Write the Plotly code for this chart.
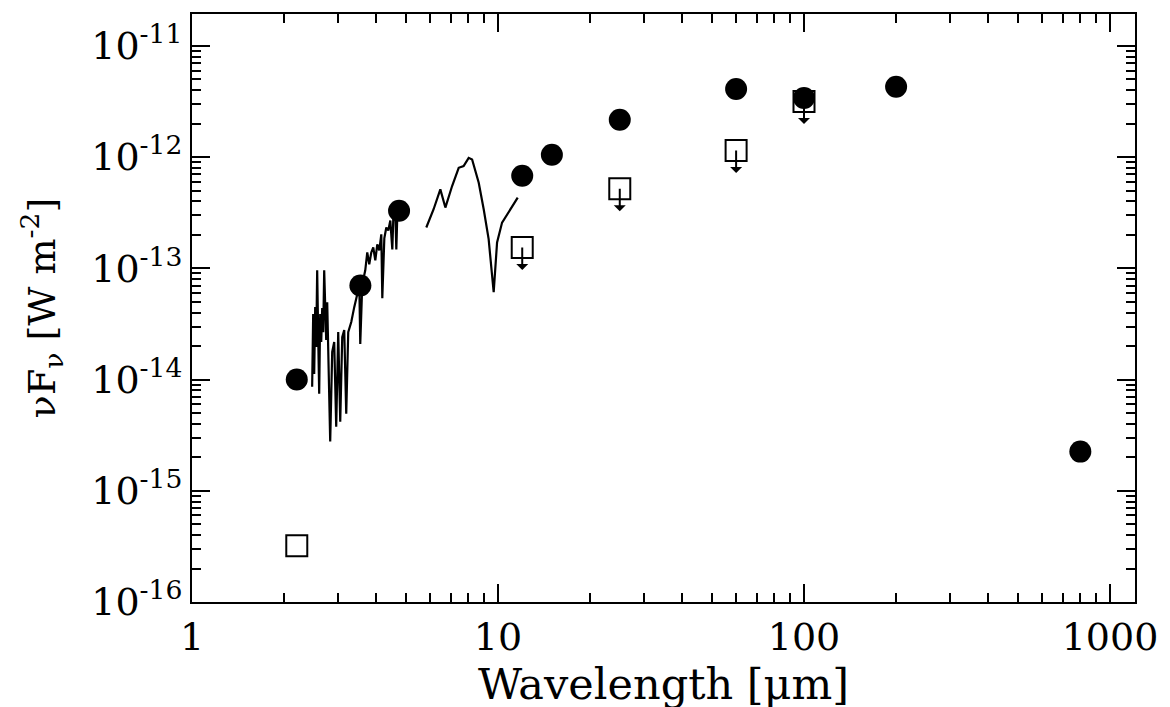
import numpy as np
import plotly.graph_objects as go

# Photometry (filled circles)
phot_wl = [2.2, 3.55, 4.75, 12.0, 15.0, 25.0, 60.0, 100.0, 200.0, 800.0]
phot_f = [1.0e-14, 7.0e-14, 3.3e-13, 6.8e-13, 1.05e-12, 2.17e-12, 4.1e-12, 3.4e-12, 4.3e-12, 2.25e-15]

# Upper limits (open squares); arrow flag per point
lim_wl = [2.2, 12.0, 25.0, 60.0, 100.0]
lim_f = [3.2e-16, 1.54e-13, 5.2e-13, 1.15e-12, 3.17e-12]
lim_arrow = [False, True, True, True, True]

# Spectrum, short-wavelength part
spec1_wl = [2.470, 2.489, 2.508, 2.527, 2.546, 2.565, 2.585, 2.604, 2.624, 2.644,
            2.664, 2.684, 2.704, 2.725, 2.745, 2.766, 2.787, 2.829, 2.872, 2.916,
            2.960, 3.005, 3.051, 3.097, 3.144, 3.192, 3.240, 3.315, 3.390, 3.468,
            3.521, 3.547, 3.601, 3.683, 3.739, 3.796, 3.854, 3.912, 3.972, 4.032,
            4.093, 4.156, 4.187, 4.251, 4.315, 4.381, 4.447, 4.515, 4.549, 4.618,
            4.653, 4.688, 4.795, 4.868]
spec1_f = [8.60e-15, 3.88e-14, 1.12e-14, 4.48e-14, 1.96e-14, 9.60e-14, 2.41e-14, 7.45e-15, 3.88e-14, 2.18e-14,
           4.39e-14, 2.67e-14, 9.60e-14, 4.48e-14, 2.27e-14, 4.96e-14, 1.96e-14, 2.77e-15, 1.77e-14, 2.18e-14,
           3.77e-15, 2.67e-14, 4.18e-15, 2.41e-14, 2.79e-14, 4.93e-15, 2.67e-14, 3.29e-14, 4.48e-14, 5.85e-14,
           7.49e-14, 2.09e-14, 7.19e-14, 9.60e-14, 1.39e-13, 1.09e-13, 1.39e-13, 1.54e-13, 1.18e-13, 1.64e-13,
           1.45e-13, 2.02e-13, 5.39e-14, 1.86e-13, 2.33e-13, 2.19e-13, 2.69e-13, 1.48e-13, 2.86e-13, 3.17e-13,
           1.48e-13, 3.04e-13, 3.52e-13, 3.17e-13]

# Spectrum, mid-infrared part
spec2_wl = [5.83, 6.16, 6.48, 6.73, 7.08, 7.44, 7.72, 8.02, 8.23, 8.65,
            8.98, 9.32, 9.68, 9.93, 10.31, 10.71, 10.98, 11.26, 11.60]
spec2_f = [2.33e-13, 3.40e-13, 5.13e-13, 3.52e-13, 5.50e-13, 8.02e-13, 8.30e-13, 9.86e-13, 9.52e-13, 5.89e-13,
           3.40e-13, 1.83e-13, 6.10e-14, 1.71e-13, 2.58e-13, 3.06e-13, 3.40e-13, 3.76e-13, 4.32e-13]

x_ticks = [1, 10, 100, 1000]
x_ticktext = ["1", "10", "100", "1000"]
y_ticks = [1e-16, 1e-15, 1e-14, 1e-13, 1e-12, 1e-11]
y_ticktext = ["10<sup>-16</sup>", "10<sup>-15</sup>", "10<sup>-14</sup>",
              "10<sup>-13</sup>", "10<sup>-12</sup>", "10<sup>-11</sup>"]

x_minor = [m * 10 ** d for d in range(0, 3) for m in range(2, 10)]
y_minor = [m * 10.0 ** d for d in range(-16, -10) for m in range(2, 10)]

fig = go.Figure()
fig.add_trace(go.Scatter(x=spec1_wl, y=spec1_f, mode="lines",
                         line=dict(color="black", width=2.2), hoverinfo="skip"))
fig.add_trace(go.Scatter(x=spec2_wl, y=spec2_f, mode="lines",
                         line=dict(color="black", width=2.2), hoverinfo="skip"))
fig.add_trace(go.Scatter(x=phot_wl, y=phot_f, mode="markers",
                         marker=dict(symbol="circle", size=22, color="black",
                                     line=dict(width=0))))
fig.add_trace(go.Scatter(x=lim_wl, y=lim_f, mode="markers",
                         marker=dict(symbol="square-open", size=21, color="black",
                                     line=dict(width=2))))

for wl, f, a in zip(lim_wl, lim_f, lim_arrow):
    if a:
        fig.add_annotation(x=np.log10(wl), y=np.log10(f), xref="x", yref="y",
                           text="", showarrow=True, ax=0, ay=24,
                           arrowside="start", arrowhead=2, arrowsize=1.1,
                           arrowwidth=2, arrowcolor="black")

serif = "DejaVu Serif"
axis_common = dict(
    type="log", showline=True, linecolor="black", linewidth=2,
    mirror="ticks", ticks="inside", tickcolor="black", tickwidth=2, ticklen=18,
    showgrid=False, zeroline=False,
    tickfont=dict(family=serif, size=38, color="black"),
)
fig.update_xaxes(**axis_common, range=[0, np.log10(1207)],
                 tickmode="array", tickvals=x_ticks, ticktext=x_ticktext,
                 minor=dict(tickmode="array", tickvals=x_minor, ticks="inside",
                            ticklen=9, tickwidth=2, tickcolor="black"),
                 title=dict(text="Wavelength [μm]",
                            font=dict(family=serif, size=43, color="black"),
                            standoff=2))
fig.update_yaxes(**axis_common, range=[-16, -10.713],
                 tickmode="array", tickvals=y_ticks, ticktext=y_ticktext,
                 minor=dict(tickmode="array", tickvals=y_minor, ticks="inside",
                            ticklen=9, tickwidth=2, tickcolor="black"),
                 title=dict(text="νF<sub>ν</sub> [W m<sup>-2</sup>]",
                            font=dict(family=serif, size=38, color="black"),
                            standoff=24))

# the page body adds an 8px offset; margins compensate so the plot box sits at
# x 192..1135, y 12..602 in the window
fig.update_layout(
    width=1170, height=707,
    margin=dict(l=184, r=43, t=4, b=113),
    paper_bgcolor="white", plot_bgcolor="white",
    showlegend=False,
)

fig.write_html("out.html")
